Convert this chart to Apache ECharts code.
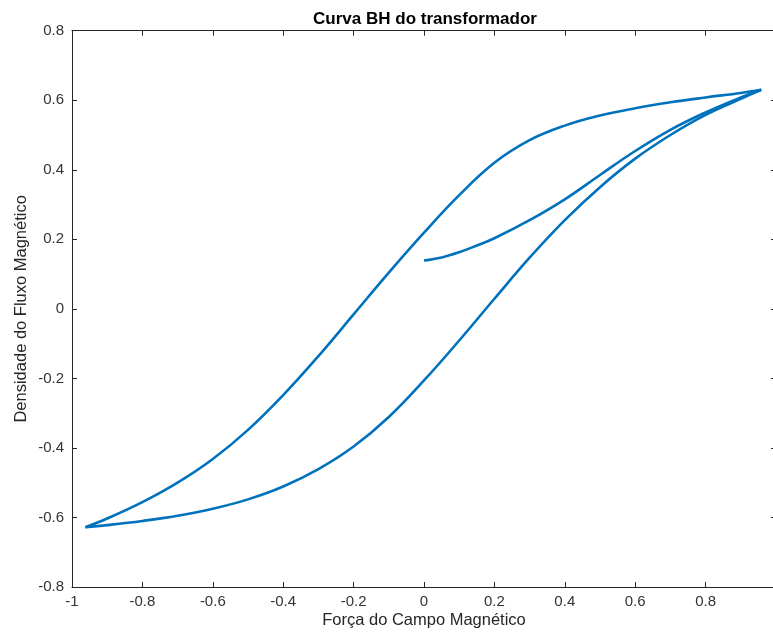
<!DOCTYPE html>
<html>
<head>
<meta charset="utf-8">
<script src="https://cdn.jsdelivr.net/npm/echarts@6/dist/echarts.min.js"></script>
<style>
  html, body { margin: 0; padding: 0; background: #fff; overflow: hidden; }
  #chart { width: 780px; height: 634px; }
</style>
</head>
<body>
<div id="chart"></div>
<script>
// Curva de magnetização inicial (H, B)
const initialH = [0, 0.05, 0.1, 0.15, 0.2, 0.3, 0.4, 0.5, 0.6, 0.7, 0.8, 0.9, 0.958];
const initialB = [0.139, 0.148, 0.163, 0.182, 0.203, 0.255, 0.315, 0.385, 0.454, 0.515, 0.565, 0.608, 0.63];

// Ramo descendente (do pico positivo ao pico negativo)
const upperH = [0.958, 0.9, 0.8, 0.7, 0.6, 0.5, 0.4, 0.3, 0.2, 0.1, 0, -0.1, -0.2, -0.3, -0.4, -0.5, -0.6, -0.7, -0.8, -0.9, -0.962];
const upperB = [0.63, 0.621, 0.608, 0.594, 0.577, 0.556, 0.527, 0.485, 0.42, 0.327, 0.219, 0.104, -0.016, -0.136, -0.248, -0.348, -0.432, -0.5, -0.556, -0.603, -0.628];

// Ramo ascendente (do pico negativo ao pico positivo)
const lowerH = [-0.962, -0.9, -0.8, -0.7, -0.6, -0.5, -0.4, -0.3, -0.2, -0.1, 0, 0.1, 0.2, 0.3, 0.4, 0.5, 0.6, 0.7, 0.8, 0.9, 0.958];
const lowerB = [-0.628, -0.622, -0.61, -0.595, -0.575, -0.548, -0.511, -0.461, -0.396, -0.311, -0.206, -0.091, 0.029, 0.147, 0.255, 0.35, 0.432, 0.5, 0.558, 0.604, 0.63];

const xTicks = [-1, -0.8, -0.6, -0.4, -0.2, 0, 0.2, 0.4, 0.6, 0.8, 1];
const yTicks = [-0.8, -0.6, -0.4, -0.2, 0, 0.2, 0.4, 0.6, 0.8];

const pairs = (xs, ys) => xs.map((x, i) => [x, ys[i]]);
const fmt = v => String(Math.round(v * 10) / 10);

const lineColor = '#0072BD';
const axisColor = '#262626';
const textColor = '#333';
const fontFamily = '"Liberation Sans", Arial, Helvetica, sans-serif';

const boxAxis = (extra) => Object.assign({
  type: 'value',
  axisLine: { show: true, onZero: false, lineStyle: { color: axisColor, width: 1 } },
  axisTick: { show: true, inside: true, length: 5, lineStyle: { color: axisColor } },
  splitLine: { show: false },
  axisLabel: { show: false }
}, extra);

const xBase = {
  min: xTicks[0], max: xTicks[xTicks.length - 1], interval: 0.2
};
const yBase = {
  min: yTicks[0], max: yTicks[yTicks.length - 1], interval: 0.2
};

const lineSeries = (xs, ys) => ({
  type: 'line',
  data: pairs(xs, ys),
  showSymbol: false,
  smooth: 0.4,
  lineStyle: { color: lineColor, width: 2.6 },
  itemStyle: { color: lineColor },
  animation: false,
  z: 3
});

const chart = echarts.init(document.getElementById('chart'));
chart.setOption({
  backgroundColor: '#fff',
  animation: false,
  title: {
    text: 'Curva BH do transformador',
    left: 420,
    textAlign: 'center',
    top: 6,
    textStyle: { fontFamily, fontSize: 17, fontWeight: 'bold', color: '#000' }
  },
  grid: { left: 72, right: 4, top: 30.7, bottom: 45.7, containLabel: false },
  xAxis: [
    boxAxis(Object.assign({
      position: 'bottom',
      name: 'Força do Campo Magnético',
      nameLocation: 'middle',
      nameGap: 25,
      nameMoveOverlap: false,
      nameTextStyle: { fontFamily, fontSize: 16.5, color: '#262626' },
      axisLabel: {
        show: true, margin: 7, fontFamily, fontSize: 15, color: textColor,
        showMaxLabel: false, formatter: fmt
      }
    }, xBase)),
    boxAxis(Object.assign({ position: 'top' }, xBase))
  ],
  yAxis: [
    boxAxis(Object.assign({
      position: 'left',
      name: 'Densidade do Fluxo Magnético',
      nameLocation: 'middle',
      nameGap: 42,
      nameMoveOverlap: false,
      nameTextStyle: { fontFamily, fontSize: 16.5, color: '#262626' },
      axisLabel: { show: true, margin: 8, fontFamily, fontSize: 15, color: textColor, formatter: fmt }
    }, yBase)),
    boxAxis(Object.assign({ position: 'right' }, yBase))
  ],
  series: [
    lineSeries(initialH, initialB),
    lineSeries(upperH, upperB),
    lineSeries(lowerH, lowerB)
  ]
});
</script>
</body>
</html>
